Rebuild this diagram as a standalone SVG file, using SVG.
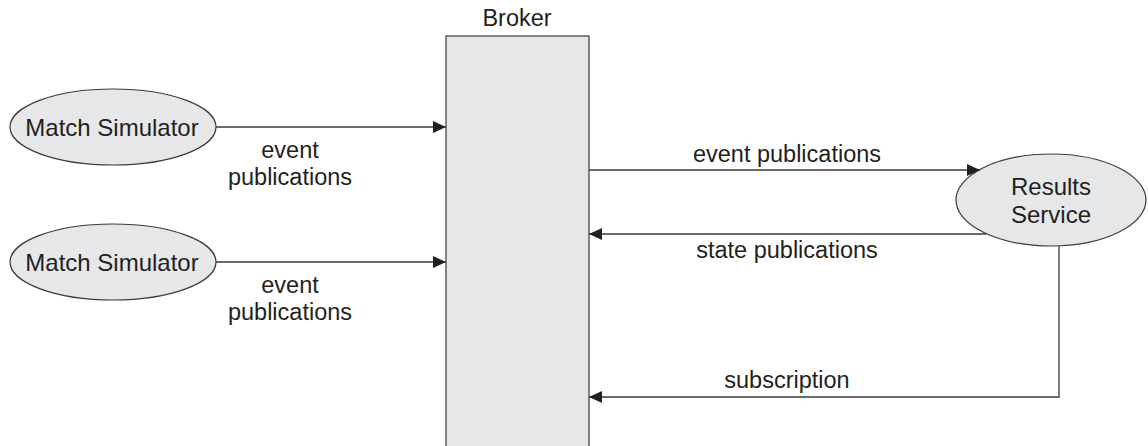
<svg xmlns="http://www.w3.org/2000/svg" width="1148" height="446" viewBox="0 0 1148 446">
<style>
.node{fill:#e6e7e8;stroke:#3a3a3a;stroke-width:1.2}
.lbl{font-family:"Liberation Sans",Arial,sans-serif;font-size:23.5px;fill:#231f20}
.big{font-size:24px}
.c{text-anchor:middle}
.edge{fill:none;stroke:#3a3a3a;stroke-width:1.3}
</style>
<defs>
<marker id="ah" markerWidth="14" markerHeight="12" refX="13" refY="6" orient="auto" markerUnits="userSpaceOnUse">
<path d="M0,0 L13,6 L0,12 Z" fill="#231f20"/>
</marker>
</defs>
<rect width="1148" height="446" fill="#ffffff"/>
<g id="broker">
<rect class="node" x="446" y="36" width="143" height="420"/>
<text class="lbl c" x="517" y="26">Broker</text>
</g>
<g id="sim1">
<ellipse class="node" cx="113" cy="127" rx="103" ry="38"/>
<text class="lbl big c" x="112" y="136">Match Simulator</text>
</g>
<g id="sim2">
<ellipse class="node" cx="113" cy="262" rx="103" ry="38"/>
<text class="lbl big c" x="112" y="271">Match Simulator</text>
</g>
<g id="results">
<ellipse class="node" cx="1051" cy="200" rx="95" ry="46"/>
<text class="lbl big c" x="1051" y="195">Results</text>
<text class="lbl big c" x="1051" y="223">Service</text>
</g>
<g id="connectors">
<path class="edge" d="M216,127 H446" marker-end="url(#ah)"/>
<path class="edge" d="M216,262 H446" marker-end="url(#ah)"/>
<path class="edge" d="M589,170 H980" marker-end="url(#ah)"/>
<path class="edge" d="M986,234 H589" marker-end="url(#ah)"/>
<path class="edge" d="M1059,246 V397 H589" marker-end="url(#ah)"/>
<text class="lbl c" x="290" y="158">event</text>
<text class="lbl c" x="290" y="185">publications</text>
<text class="lbl c" x="290" y="293">event</text>
<text class="lbl c" x="290" y="320">publications</text>
<text class="lbl c" x="787" y="162">event publications</text>
<text class="lbl c" x="787" y="258">state publications</text>
<text class="lbl c" x="787" y="388">subscription</text>
</g>
</svg>
